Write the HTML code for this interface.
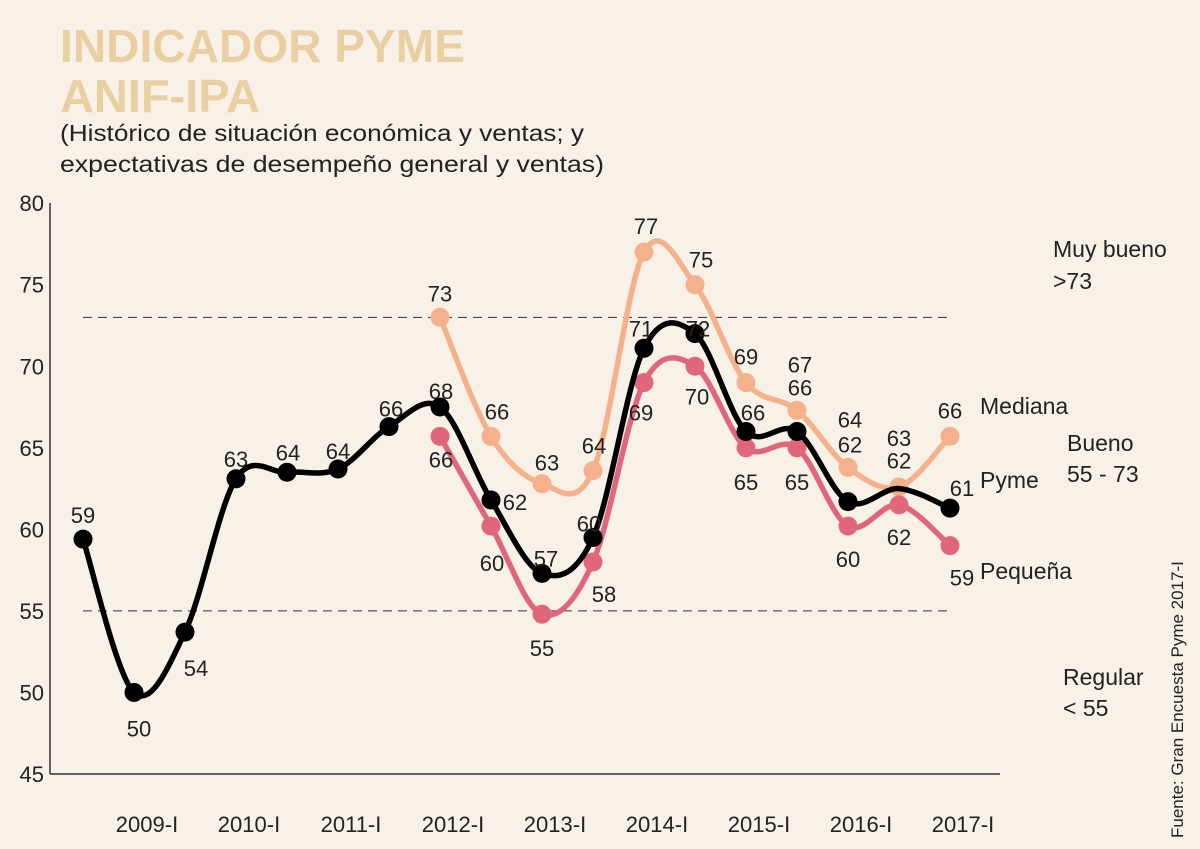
<!DOCTYPE html>
<html><head><meta charset="utf-8"><style>
html,body{margin:0;padding:0;background:#f8f1e7;}
svg{display:block;font-family:"Liberation Sans",sans-serif;}
</style></head><body>
<svg id="chart" width="1200" height="849" viewBox="0 0 1200 849">
<rect width="1200" height="849" fill="#f8f1e7"/>
<text x="60" y="62" font-size="46" font-weight="bold" fill="#e9cfa2" textLength="405" lengthAdjust="spacingAndGlyphs">INDICADOR PYME</text>
<text x="60" y="112" font-size="46" font-weight="bold" fill="#e9cfa2" textLength="200" lengthAdjust="spacingAndGlyphs">ANIF-IPA</text>
<text x="60" y="141" font-size="23" fill="#222" textLength="524" lengthAdjust="spacingAndGlyphs">(Histórico de situación económica y ventas; y</text>
<text x="60" y="172" font-size="23" fill="#222" textLength="544" lengthAdjust="spacingAndGlyphs">expectativas de desempeño general y ventas)</text>
<g id="axes"></g>
<g id="series"></g>
<text x="1053" y="257" font-size="23" fill="#222">Muy bueno</text>
<text x="1053" y="289" font-size="23" fill="#222">&gt;73</text>
<text x="1067" y="451" font-size="23" fill="#222">Bueno</text>
<text x="1067" y="482" font-size="23" fill="#222">55 - 73</text>
<text x="1063" y="685" font-size="23" fill="#222">Regular</text>
<text x="1063" y="716" font-size="23" fill="#222">&lt; 55</text>
<text x="980" y="414" font-size="23" fill="#222">Mediana</text>
<text x="980" y="488" font-size="23" fill="#222">Pyme</text>
<text x="980" y="579" font-size="23" fill="#222">Pequeña</text>
<text transform="translate(1183,838) rotate(-90)" font-size="17" fill="#222">Fuente: Gran Encuesta Pyme 2017-I</text>
</svg>
<script>
const xTickLabels=["2009-I","2010-I","2011-I","2012-I","2013-I","2014-I","2015-I","2016-I","2017-I"];
const xTickIndex=[1,3,5,7,9,11,13,15,17];
const yTicks=[45,50,55,60,65,70,75,80];
const thresholds=[55,73];
const pymeIdx=[0,1,2,3,4,5,6,7,8,9,10,11,12,13,14,15,16,17];
const pymeVals=[59.4,50,53.7,63.1,63.5,63.7,66.3,67.5,61.8,57.3,59.5,71.1,72,66,66,61.7,62.5,61.3];
const pymeLabels=["59","50","54","63","64","64","66","68","62","57","60","71","72","66","66","62","62","61"];
const medIdx=[7,8,9,10,11,12,13,14,15,16,17];
const medVals=[73,65.7,62.8,63.6,77,75,69,67.3,63.8,62.6,65.7];
const medLabels=["73","66","63","64","77","75","69","67","64","63","66"];
const peqIdx=[7,8,9,10,11,12,13,14,15,16,17];
const peqVals=[65.7,60.2,54.8,58,69,70,65,65,60.2,61.5,59];
const peqLabels=["66","60","55","58","69","70","65","65","60","62","59"];

const NS="http://www.w3.org/2000/svg";
const X=i=>83+i*51;
const Y=v=>774-(v-45)*16.31;
function el(tag,attrs,parent){const e=document.createElementNS(NS,tag);for(const k in attrs)e.setAttribute(k,attrs[k]);parent.appendChild(e);return e;}
const axes=document.getElementById('axes'), ser=document.getElementById('series');

let a=el('line',{x1:50,y1:203,x2:50,y2:774,stroke:'#333','stroke-width':1.5},axes);


a=el('line',{x1:50,y1:774,x2:1000,y2:774,stroke:'#333','stroke-width':1.5},axes);


yTicks.forEach(v=>{const t=el('text',{x:44,y:Y(v)+8,'font-size':22,'text-anchor':'end',fill:'#222'},axes);t.textContent=v;

});
xTickLabels.forEach((s,k)=>{const t=el('text',{x:X(xTickIndex[k])+13,y:832,'font-size':22,'text-anchor':'middle',fill:'#222'},axes);t.textContent=s;

});
thresholds.forEach(v=>{const l=el('line',{x1:83,x2:950,y1:Y(v),y2:Y(v),stroke:'#333','stroke-width':1,'stroke-dasharray':'9,6'},axes);

});

function path(pts){let d=`M${pts[0][0]},${pts[0][1]}`;for(let i=0;i<pts.length-1;i++){const p0=pts[i-1]||pts[i],p1=pts[i],p2=pts[i+1],p3=pts[i+2]||p2;const t=6;d+=` C${p1[0]+(p2[0]-p0[0])/t},${p1[1]+(p2[1]-p0[1])/t} ${p2[0]-(p3[0]-p1[0])/t},${p2[1]-(p3[1]-p1[1])/t} ${p2[0]},${p2[1]}`;}return d;}
function series(name,idx,vals,color,r){const g=el('g',{},ser);

const pts=idx.map((i,k)=>[X(i),Y(vals[k])]);
const p=el('path',{d:path(pts),fill:'none',stroke:color,'stroke-width':5.5},g);


pts.forEach((q,k)=>{if(name==='pyme'&&k===16)return;const c=el('circle',{cx:q[0],cy:q[1],r:r,fill:color},g);

});}
series('mediana',medIdx,medVals,'#f4b18b',9.5);
series('pequena',peqIdx,peqVals,'#e0677b',9.5);
series('pyme',pymeIdx,pymeVals,'#000',9.5);
const pymeOff=[[0,-24],[5,36],[11,36],[0,-20],[1,-20],[0,-18],[2,-18],[1,-16],[24,2],[4,-15],[-4,-14],[-3,-20],[3,-5],[7,-19],[3,-44],[2,-57],[0,-28],[12,-20]];
const medOff=[[0,-24],[6,-25],[5,-21],[1,-25],[2,-26],[6,-25],[0,-26],[3,-46],[2,-48],[0,-49],[0,-26]];
const peqOff=[[1,23],[1,37],[0,34],[11,32],[-3,30],[2,30],[0,34],[0,34],[0,33],[0,32],[12,32]];
function labels(name,idx,vals,txt,off){idx.forEach((i,k)=>{const t=el('text',{x:X(i)+off[k][0],y:Y(vals[k])+off[k][1]+8,'font-size':22,'text-anchor':'middle',fill:'#222'},ser);t.textContent=txt[k];

});}
labels('mediana',medIdx,medVals,medLabels,medOff);
labels('pequena',peqIdx,peqVals,peqLabels,peqOff);
labels('pyme',pymeIdx,pymeVals,pymeLabels,pymeOff);
</script>
</body></html>
